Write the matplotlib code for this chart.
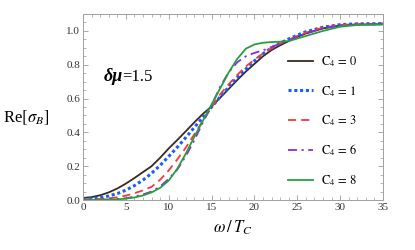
"""
plot.py
Re[sigma_B] vs omega/T_c for several C4 values at delta mu = 1.5.
"""

import matplotlib
matplotlib.use("Agg")
import matplotlib.pyplot as plt
from matplotlib.ticker import MultipleLocator, FormatStrFormatter

plt.rcParams["font.family"] = ["Liberation Serif", "DejaVu Serif"]
plt.rcParams["mathtext.fontset"] = "stix"

# ------------------------------------------------------------------
# Data
# ------------------------------------------------------------------
omega = [0, 1, 2, 3, 4, 5, 6, 7, 8, 9, 10, 11, 12, 13, 14, 15, 16, 17,
         18, 19, 20, 21, 22, 23, 24, 25, 26, 28, 30, 32, 35]

c4_0 = [0.012, 0.017, 0.028, 0.045, 0.068, 0.097, 0.13, 0.165, 0.2, 0.25,
        0.305, 0.355, 0.407, 0.46, 0.51, 0.553, 0.605, 0.657, 0.71, 0.76,
        0.805, 0.85, 0.887, 0.915, 0.94, 0.965, 0.985, 1.015, 1.032, 1.038, 1.04]
c4_1 = [0.005, 0.008, 0.014, 0.024, 0.038, 0.058, 0.085, 0.118, 0.158, 0.205,
        0.258, 0.312, 0.37, 0.43, 0.49, 0.55, 0.61, 0.668, 0.725, 0.775,
        0.823, 0.865, 0.9, 0.928, 0.952, 0.975, 0.995, 1.022, 1.037, 1.042, 1.043]
c4_3 = [0.003, 0.004, 0.006, 0.01, 0.016, 0.026, 0.04, 0.057, 0.078, 0.12,
        0.175, 0.24, 0.31, 0.39, 0.47, 0.548, 0.625, 0.685, 0.74, 0.79,
        0.83, 0.867, 0.897, 0.925, 0.948, 0.97, 0.99, 1.02, 1.035, 1.04, 1.042]
c4_6 = [0.001, 0.001, 0.002, 0.003, 0.006, 0.01, 0.02, 0.033, 0.05, 0.08,
        0.125, 0.18, 0.26, 0.355, 0.46, 0.56, 0.67, 0.755, 0.815, 0.85,
        0.87, 0.885, 0.905, 0.925, 0.945, 0.965, 0.985, 1.015, 1.032, 1.038, 1.04]
c4_8 = [0.0, 0.0, 0.001, 0.002, 0.004, 0.008, 0.015, 0.027, 0.045, 0.072,
        0.115, 0.185, 0.275, 0.375, 0.47, 0.565, 0.66, 0.755, 0.835, 0.895,
        0.92, 0.93, 0.934, 0.936, 0.94, 0.955, 0.97, 1.0, 1.025, 1.035, 1.038]

labels = [r"$\mathrm{C}_4\,=\,0$", r"$\mathrm{C}_4\,=\,1$", r"$\mathrm{C}_4\,=\,3$",
          r"$\mathrm{C}_4\,=\,6$", r"$\mathrm{C}_4\,=\,8$"]

# ------------------------------------------------------------------
# Figure
# ------------------------------------------------------------------
fig = plt.figure(figsize=(4.15, 2.5), dpi=100)
ax = fig.add_axes([0.2, 0.2, 0.723, 0.744])

ax.plot(omega, c4_0, color="#3a2a1f", lw=1.3, ls="-", label=labels[0])
ax.plot(omega, c4_1, color="#1a5cf5", lw=2.2, ls=(0, (1.0, 0.9)), label=labels[1])
ax.plot(omega, c4_3, color="#f23a3a", lw=1.3, ls=(0, (4.5, 2.8)), label=labels[2])
ax.plot(omega, c4_6, color="#8a2be2", lw=1.3, ls=(0, (5, 2.5, 1.2, 2.5)), label=labels[3])
ax.plot(omega, c4_8, color="#26a03a", lw=1.3, ls="-", label=labels[4])

ax.set_xlim(0, 35)
ax.set_ylim(0, 1.1)
ax.xaxis.set_major_locator(MultipleLocator(5))
ax.xaxis.set_minor_locator(MultipleLocator(1))
ax.yaxis.set_major_locator(MultipleLocator(0.2))
ax.yaxis.set_minor_locator(MultipleLocator(0.05))
ax.yaxis.set_major_formatter(FormatStrFormatter("%.1f"))

ax.tick_params(which="both", direction="in", top=True, right=True,
               color="#999999", labelsize=8, labelcolor="#333333", pad=2)
ax.tick_params(which="major", length=3.5, width=0.6)
ax.tick_params(which="minor", length=2, width=0.5)
for sp in ax.spines.values():
    sp.set_color("#a0a0a0")
    sp.set_linewidth(0.7)

ax.set_xlabel(r"$\omega\,/\,T_C$", fontsize=12, labelpad=5)
fig.text(0.008, 0.53, r"Re$[\sigma_B]$", fontsize=12, ha="left", va="center")

t1 = ax.text(0.068, 0.64, "δμ", transform=ax.transAxes, fontsize=13,
             fontweight="bold", style="italic", ha="left", va="baseline")
ax.annotate("=1.5", xy=(1, 0), xycoords=t1, fontsize=12, ha="left", va="bottom")

ax.legend(loc="upper left", bbox_to_anchor=(0.665, 0.81), frameon=False,
          fontsize=9, handlelength=2.0, handletextpad=0.7, labelspacing=1.17,
          borderaxespad=0)

fig.savefig("out.png", dpi=100)
